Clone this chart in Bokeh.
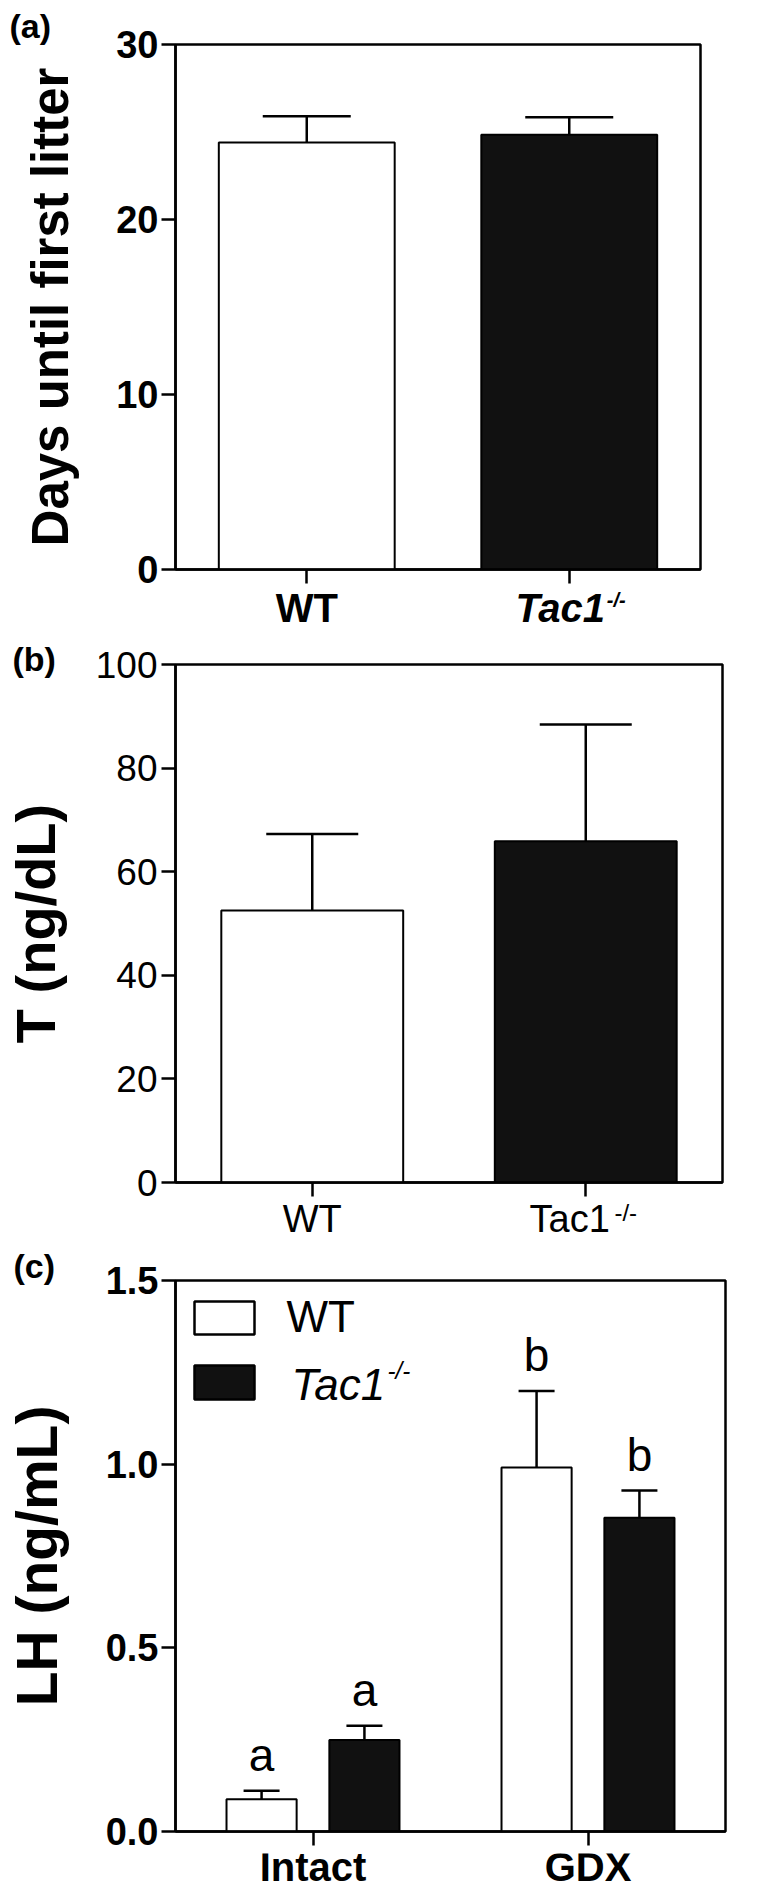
import math
from bokeh.plotting import figure
from bokeh.models import (ColumnDataSource, FactorRange, Range1d, Label, BoxAnnotation,
                          Whisker, TeeHead, FixedTicker, Title)
from bokeh.transform import dodge
from bokeh.layouts import column
from bokeh.embed import file_html
from bokeh.resources import INLINE
from bokeh.core.properties import value

FONT = "Liberation Sans"

# ---------------- data ----------------
# (a) Days until first litter
a_groups = ["WT", "Tac1"]
a_mean = [24.4, 24.85]
a_sem = [1.5, 1.0]
a_yticks = [0, 10, 20, 30]

# (b) Testosterone
b_groups = ["WT", "Tac1"]
b_mean = [52.5, 65.9]
b_sem = [14.8, 22.5]
b_yticks = [0, 20, 40, 60, 80, 100]

# (c) LH
c_groups = ["Intact", "GDX"]
c_wt_mean = [0.088, 0.991]
c_wt_sem = [0.023, 0.208]
c_ko_mean = [0.249, 0.854]
c_ko_sem = [0.039, 0.074]
c_wt_letters = ["a", "b"]
c_ko_letters = ["a", "b"]
c_yticks = [0, 0.5, 1.0, 1.5]
c_ytick_labels = ["0.0", "0.5", "1.0", "1.5"]

SUP = "-/-"

# styles
bar_fills = ["white", "#111111"]
LW = 2.5
BASE_SHIFT = 0.37   # the SVG text baseline sits this many ems below the anchor


def make_fig(cats, yr, fw, fh, mbl, mbr, mbt, mbb, ticks, bold):
    p = figure(x_range=FactorRange(*cats), y_range=Range1d(*yr),
               frame_width=fw, frame_height=fh,
               min_border_left=mbl, min_border_right=mbr,
               min_border_top=mbt, min_border_bottom=mbb,
               output_backend="svg", toolbar_location=None)
    p.xgrid.visible = False
    p.ygrid.visible = False
    p.outline_line_color = "black"
    p.outline_line_width = LW
    p.background_fill_color = "white"
    p.border_fill_color = "white"
    for ax in (p.xaxis[0], p.yaxis[0]):
        ax.axis_line_width = LW
        ax.axis_line_color = "black"
        ax.major_tick_line_width = LW
        ax.major_tick_line_color = "black"
        ax.major_tick_out = 14
        ax.major_tick_in = 0
        ax.minor_tick_line_color = None
    # category names are written in the strip below (they need mixed styles)
    p.xaxis.major_label_text_font_size = "0px"
    p.xaxis.major_label_text_color = None
    p.xaxis.major_label_standoff = 0
    p.yaxis.ticker = FixedTicker(ticks=ticks)
    p.yaxis.major_label_text_font = FONT
    p.yaxis.major_label_text_font_size = "38px" if bold else "37px"
    p.yaxis.major_label_text_font_style = "bold" if bold else "normal"
    p.yaxis.major_label_text_color = "black"
    p.yaxis.major_label_standoff = 3
    p.yaxis.axis_label_text_font = FONT
    p.yaxis.axis_label_text_font_style = "bold"
    p.yaxis.axis_label_text_color = "black"
    return p


def make_strip(p, h, mbl, mbr):
    """Band under a panel that carries its category names, on the same x scale."""
    s = figure(x_range=p.x_range, y_range=Range1d(0, h), frame_width=p.frame_width,
               frame_height=h, min_border_left=mbl, min_border_right=mbr,
               min_border_top=0, min_border_bottom=0, x_axis_location=None,
               y_axis_location=None, output_backend="svg", toolbar_location=None)
    s.xgrid.visible = False
    s.ygrid.visible = False
    s.outline_line_color = None
    s.background_fill_color = "white"
    s.border_fill_color = "white"
    return s


def strip_text(s, cats, text, depth, size_px, style, dx=0):
    """depth = distance of the baseline below the top of the strip, in px."""
    h = s.frame_height
    y = h - depth + BASE_SHIFT * size_px
    s.text(x=cats, y=[y] * len(cats), text=text, x_offset=dx, text_font=value(FONT),
           text_font_size=f"{size_px}px", text_font_style=style, text_align="center",
           text_baseline="alphabetic", text_color="black")


def panel_tag(p, text, offset, standoff):
    p.add_layout(Title(text=text, align="left", offset=offset, standoff=standoff,
                       text_font=FONT, text_font_size="34px", text_font_style="bold",
                       text_color="black"), "above")


def add_label(p, text, x, y, size_px, style="normal"):
    p.add_layout(Label(x=x, y=y + BASE_SHIFT * size_px, x_units="screen", y_units="screen",
                       text=text, text_font=FONT, text_font_size=f"{size_px}px",
                       text_font_style=style, text_align="left",
                       text_baseline="alphabetic", text_color="black"))


# ---------------- panel (a) ----------------
pa = make_fig(a_groups, (0, 30), 525, 525, 174, 74, 44, 22, a_yticks, True)
src_a = ColumnDataSource(dict(cat=a_groups, mean=a_mean,
                              upper=[m + s for m, s in zip(a_mean, a_sem)],
                              fill=bar_fills))
pa.vbar(x="cat", top="mean", width=0.67, source=src_a, fill_color="fill",
        line_color="black", line_width=2)
pa.add_layout(Whisker(source=src_a, base="cat", lower="mean", upper="upper",
                      dimension="height", line_width=LW, line_color="black",
                      upper_head=TeeHead(size=88, line_width=LW, line_color="black"),
                      lower_head=None))
pa.yaxis.axis_label = "Days until first litter"
pa.yaxis.axis_label_text_font_size = "51px"
pa.yaxis.axis_label_standoff = 34
panel_tag(pa, "(a)", -166, -1)

sa = make_strip(pa, 49, 174, 74)
strip_text(sa, a_groups[:1], a_groups[:1], 31, 40, "bold")
strip_text(sa, a_groups[1:], a_groups[1:], 31, 40, "bold italic", dx=-9)
strip_text(sa, a_groups[1:], [SUP], 16, 20, "bold italic", dx=47)

# ---------------- panel (b) ----------------
pb = make_fig(b_groups, (0, 100), 547, 518, 170, 56, 24, 21, b_yticks, False)
pb.yaxis.major_label_standoff = 4
src_b = ColumnDataSource(dict(cat=b_groups, mean=b_mean,
                              upper=[m + s for m, s in zip(b_mean, b_sem)],
                              fill=bar_fills))
pb.vbar(x="cat", top="mean", width=0.665, source=src_b, fill_color="fill",
        line_color="black", line_width=2)
pb.add_layout(Whisker(source=src_b, base="cat", lower="mean", upper="upper",
                      dimension="height", line_width=LW, line_color="black",
                      upper_head=TeeHead(size=92, line_width=LW, line_color="black"),
                      lower_head=None))
pb.yaxis.axis_label = "T (ng/dL)"
pb.yaxis.axis_label_text_font_size = "56px"
pb.yaxis.axis_label_standoff = 26
panel_tag(pb, "(b)", -163, -27)

sb = make_strip(pb, 45, 170, 56)
strip_text(sb, b_groups[:1], b_groups[:1], 30, 38, "normal")
strip_text(sb, b_groups[1:], b_groups[1:], 30, 38, "normal", dx=-16)
strip_text(sb, b_groups[1:], [SUP], 18, 24, "normal", dx=40)

# ---------------- panel (c) ----------------
pc = make_fig(c_groups, (0, 1.5), 550, 551, 169, 54, 30, 22, c_yticks, True)
pc.yaxis.major_label_overrides = {t: l for t, l in zip(c_yticks, c_ytick_labels)}
OFF = 0.187
BW = 0.255
src_wt = ColumnDataSource(dict(group=c_groups, mean=c_wt_mean,
                               upper=[m + s for m, s in zip(c_wt_mean, c_wt_sem)],
                               letter=c_wt_letters))
src_ko = ColumnDataSource(dict(group=c_groups, mean=c_ko_mean,
                               upper=[m + s for m, s in zip(c_ko_mean, c_ko_sem)],
                               letter=c_ko_letters))
LETTER_PX = 46
for src, off, fill in ((src_wt, -OFF, bar_fills[0]), (src_ko, OFF, bar_fills[1])):
    pc.vbar(x=dodge("group", off, range=pc.x_range), top="mean", width=BW, source=src,
            fill_color=fill, line_color="black", line_width=2)
    pc.add_layout(Whisker(source=src, base=dodge("group", off, range=pc.x_range),
                          lower="mean", upper="upper", dimension="height",
                          line_width=LW, line_color="black",
                          upper_head=TeeHead(size=36, line_width=LW, line_color="black"),
                          lower_head=None))
    pc.text(x=dodge("group", off, range=pc.x_range), y="upper", text="letter", source=src,
            text_font=value(FONT), text_font_size=f"{LETTER_PX}px", text_align="center",
            text_baseline="alphabetic", y_offset=-(19 + BASE_SHIFT * LETTER_PX),
            text_color="black")

pc.yaxis.axis_label = "LH (ng/mL)"
pc.yaxis.axis_label_text_font_size = "57px"
pc.yaxis.axis_label_standoff = 34
panel_tag(pc, "(c)", -162, -8)

# legend
for top, bottom, fill in ((530, 497, bar_fills[0]), (466, 432, bar_fills[1])):
    pc.add_layout(BoxAnnotation(left=19, right=79, top=top, bottom=bottom,
                                left_units="screen", right_units="screen",
                                top_units="screen", bottom_units="screen",
                                fill_color=fill, fill_alpha=1.0, line_color="black",
                                line_alpha=1.0, line_width=LW, level="overlay"))
add_label(pc, "WT", 111, 499, 44, "normal")
add_label(pc, "Tac1", 116, 431, 44, "italic")
add_label(pc, SUP, 212, 452, 24, "italic")

sc = make_strip(pc, 34, 169, 54)
strip_text(sc, c_groups, c_groups, 28, 40, "bold")

layout = column(pa, sa, pb, sb, pc, sc)
open("out.html", "w").write(file_html(layout, INLINE))
